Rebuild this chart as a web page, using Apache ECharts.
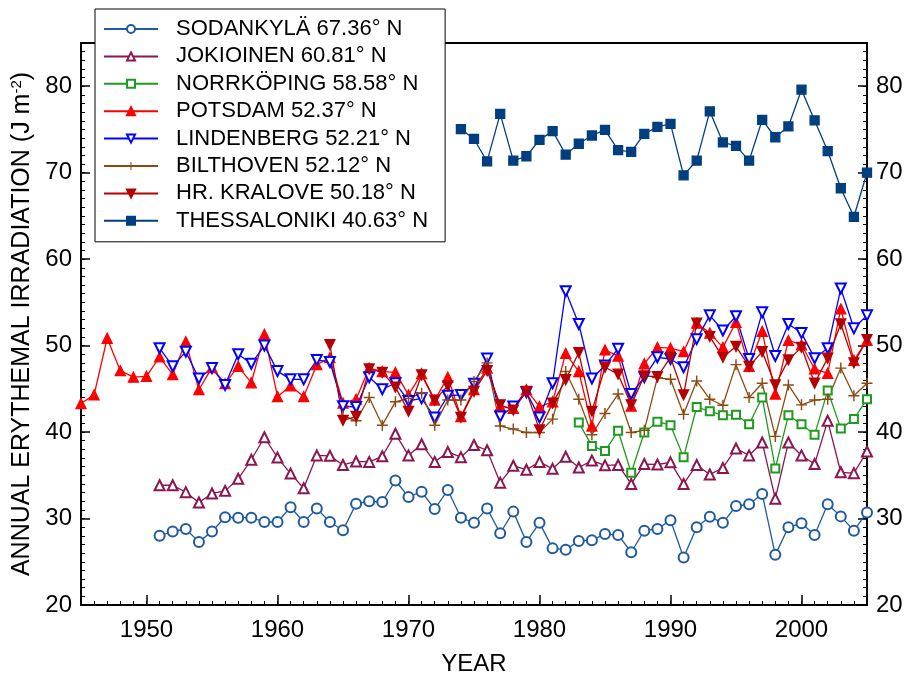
<!DOCTYPE html>
<html>
<head>
<meta charset="utf-8">
<script src="https://cdn.jsdelivr.net/npm/echarts@6/dist/echarts.min.js"></script>
<style>
html,body{margin:0;padding:0;background:#fff;}
#chart{width:904px;height:673px;}
</style>
</head>
<body>
<div id="chart"></div>
<script>
// ---- tick labels ----
const xTicks = [1950, 1960, 1970, 1980, 1990, 2000];
const yTicks = [20, 30, 40, 50, 60, 70, 80];

// ---- series names ----
const names = [
  'SODANKYLÄ 67.36° N',
  'JOKIOINEN 60.81° N',
  'NORRKÖPING 58.58° N',
  'POTSDAM 52.37° N',
  'LINDENBERG 52.21° N',
  'BILTHOVEN 52.12° N',
  'HR. KRALOVE 50.18° N',
  'THESSALONIKI 40.63° N'
];

// ---- first year of each series ----
const sodStart = 1951;
const jokStart = 1951;
const norStart = 1983;
const potStart = 1945;
const linStart = 1951;
const bilStart = 1965;
const hrkStart = 1964;
const theStart = 1974;

// ---- values (one per year, consecutive) ----
const sodankyla = [28.0, 28.5, 28.8, 27.3, 28.5, 30.15, 30.1, 30.1, 29.6, 29.6,
  31.3, 29.6, 31.15, 29.6, 28.65, 31.7, 32.0, 31.9, 34.4, 32.5,
  33.1, 31.1, 33.3, 30.1, 29.5, 31.15, 28.3, 30.8, 27.3, 29.5,
  26.55, 26.4, 27.4, 27.5, 28.2, 28.1, 26.1, 28.6, 28.8, 29.8,
  25.5, 29.0, 30.2, 29.5, 31.45, 31.65, 32.85, 25.8, 29.0, 29.45,
  28.1, 31.65, 30.25, 28.6, 30.7];

const jokioinen = [33.85, 33.85, 33.05, 31.85, 32.9, 33.2, 34.6, 36.8, 39.4, 37.05,
  35.2, 33.5, 37.3, 37.25, 36.2, 36.6, 36.55, 37.2, 39.8, 37.3,
  38.6, 36.55, 37.7, 37.1, 38.5, 37.9, 34.15, 36.1, 35.65, 36.55,
  35.75, 37.15, 35.9, 36.7, 36.15, 36.2, 34.0, 36.3, 36.25, 36.5,
  34.0, 36.2, 35.1, 35.85, 38.1, 37.3, 38.8, 32.3, 38.8, 37.3,
  36.3, 41.3, 35.35, 35.25, 37.75];

const norrkoping = [41.1, 38.4, 37.8, 40.15, 35.3, 39.95, 41.2, 40.8, 37.1, 42.9,
  42.4, 41.95, 42.0, 40.9, 44.0, 35.8, 41.95, 40.9, 39.7, 44.8,
  40.4, 41.5, 43.8];

const potsdam = [43.3, 44.3, 50.85, 47.1, 46.35, 46.45, 48.7, 46.65, 50.45, 44.9,
  47.45, 45.6, 47.6, 45.7, 51.3, 44.1, 45.35, 44.1, 47.8, 48.6,
  43.35, 43.8, 47.4, 47.0, 46.9, 44.3, 46.75, 43.7, 46.35, 41.8,
  44.9, 47.4, 43.0, 42.75, 44.9, 42.95, 43.5, 49.1, 47.0, 40.7,
  49.5, 48.8, 43.0, 47.9, 49.8, 49.7, 49.3, 52.6, 51.45, 49.8,
  52.7, 47.6, 51.65, 44.4, 50.6, 50.1, 47.3, 46.8, 54.25, 48.3,
  50.6];

const lindenberg = [49.7, 47.6, 49.3, 46.2, 47.4, 45.45, 49.0, 47.9, 50.0, 47.05,
  46.1, 46.1, 48.35, 48.1, 43.0, 42.9, 46.35, 44.95, 45.65, 43.6,
  43.9, 41.7, 44.2, 44.3, 45.6, 48.5, 41.8, 42.95, 44.6, 41.7,
  45.65, 56.3, 52.5, 46.2, 47.7, 49.65, 44.4, 46.35, 48.65, 48.45,
  47.5, 50.75, 53.5, 51.75, 53.4, 48.45, 53.85, 48.8, 52.5, 51.45,
  48.55, 49.7, 56.6, 52.0, 53.5];

const bilthoven = [41.9, 41.3, 44.0, 40.8, 43.5, 43.9, 44.5, 40.8, 43.7, 43.7,
  45.85, 48.0, 40.7, 40.35, 39.95, 39.95, 41.5, 47.0, 43.8, 39.7,
  42.15, 44.4, 39.95, 40.2, 46.3, 46.1, 42.05, 45.9, 43.8, 43.1,
  47.8, 44.0, 45.65, 39.5, 45.45, 43.15, 43.7, 43.8, 47.4, 44.2,
  45.65];

const hrKralove = [50.1,
  41.35, 41.8, 47.3, 46.9, 45.2, 42.4, 46.6, 43.7, 45.35, 41.7,
  44.7, 47.1, 43.15, 42.55, 44.7, 40.25, 43.35, 46.05, 49.2, 42.4,
  47.5, 46.7, 43.15, 46.5, 46.4, 48.65, 44.3, 52.6, 51.05, 48.65,
  49.9, 47.6, 49.3, 45.45, 48.35, 49.8, 45.65, 48.55, 52.5, 48.0,
  50.7];

const thessaloniki = [75.05, 73.9, 71.3, 76.8, 71.4, 71.9, 73.8, 74.8, 72.1, 73.35,
  74.3, 74.95, 72.6, 72.4, 74.5, 75.3, 75.65, 69.7, 71.4, 77.1,
  73.5, 73.1, 71.4, 76.1, 74.1, 75.35, 79.6, 76.05, 72.5, 68.2,
  64.9, 70.0];

// ---- build ----
const FONT = '"Liberation Sans", Arial, Helvetica, sans-serif';
function pairs(start, vals) { return vals.map((v, i) => [start + i, v]); }
const plusPath = 'path://M4.35,0H5.65V4.35H10V5.65H5.65V10H4.35V5.65H0V4.35H4.35Z';

function mk(name, start, vals, color, symbol, size, rotate) {
  return {
    name: name, type: 'line', xAxisIndex: 0, yAxisIndex: 0,
    data: pairs(start, vals),
    symbol: symbol, symbolSize: size, symbolRotate: rotate || 0,
    showAllSymbol: true,
    lineStyle: { color: color, width: 1.3 },
    itemStyle: { color: color, borderColor: color, borderWidth: 1.3 },
    emphasis: { disabled: true },
    animation: false
  };
}

const series = [
  mk(names[0], sodStart, sodankyla, '#1E5AA0', 'emptyCircle', 10),
  mk(names[1], jokStart, jokioinen, '#8B1650', 'emptyTriangle', 10),
  mk(names[2], norStart, norrkoping, '#1E9B1E', 'emptyRect', 8),
  mk(names[3], potStart, potsdam, '#FF0000', 'triangle', 10),
  mk(names[4], linStart, lindenberg, '#0000FF', 'emptyTriangle', 10, 180),
  mk(names[5], bilStart, bilthoven, '#8C4A12', plusPath, 11),
  mk(names[6], hrkStart, hrKralove, '#B40000', 'triangle', 10, 180),
  mk(names[7], theStart, thessaloniki, '#003F7F', 'rect', 9)
];
series[5].itemStyle = { color: '#8C4A12', borderWidth: 0 };

const minorTick = { show: true, inside: true, length: 4, lineStyle: { color: '#000', width: 1 } };
const lab = { fontSize: 24, color: '#000', fontFamily: FONT, formatter: function (v) { return String(v); } };

const chart = echarts.init(document.getElementById('chart'), null, { renderer: 'canvas' });
chart.setOption({
  animation: false,
  backgroundColor: '#fff',
  textStyle: { fontFamily: FONT },
  grid: { left: 81, right: 37, top: 43, bottom: 68, show: true, borderColor: '#000', borderWidth: 2,
    backgroundColor: 'transparent', containLabel: false, outerBoundsMode: 'none' },
  legend: {
    orient: 'vertical', left: 95, top: 9,
    itemWidth: 54, itemHeight: 10, itemGap: 5.4,
    padding: [9, 17, 10, 8],
    backgroundColor: '#fff', borderColor: '#000', borderWidth: 1, borderRadius: 0,
    textStyle: { fontSize: 22, color: '#000', fontFamily: FONT, lineHeight: 20, padding: [0, 0, 0, 13] },
    data: names,
    selectedMode: false
  },
  xAxis: [
    { type: 'value', min: 1945, max: 2005, interval: 1, position: 'bottom',
      axisLine: { show: true, lineStyle: { color: '#000', width: 2 } },
      axisTick: minorTick, axisLabel: { show: false }, splitLine: { show: false } },
    { type: 'value', min: 1945, max: 2005, position: 'bottom',
      axisLine: { show: false },
      axisTick: { show: true, inside: true, length: 10, customValues: xTicks, lineStyle: { color: '#000', width: 1.5 } },
      axisLabel: Object.assign({ customValues: xTicks, margin: 13 }, lab),
      splitLine: { show: false },
      name: 'YEAR', nameLocation: 'middle', nameGap: 47,
      nameTextStyle: { fontSize: 24, color: '#000', fontFamily: FONT } }
  ],
  yAxis: [
    { type: 'value', min: 20, max: 85, interval: 1, position: 'left',
      axisLine: { show: true, lineStyle: { color: '#000', width: 2 } },
      axisTick: minorTick, axisLabel: { show: false }, splitLine: { show: false } },
    { type: 'value', min: 20, max: 85, position: 'left',
      axisLine: { show: false },
      axisTick: { show: true, inside: true, length: 9, customValues: yTicks, lineStyle: { color: '#000', width: 1.5 } },
      axisLabel: Object.assign({ customValues: yTicks, margin: 9 }, lab),
      splitLine: { show: false },
      name: 'ANNUAL ERYTHEMAL IRRADIATION (J m{sup|-2})', nameLocation: 'middle', nameGap: 39,
      nameTextStyle: { fontSize: 25, color: '#000', fontFamily: FONT,
        rich: { sup: { fontSize: 15, fontFamily: FONT, color: '#000', verticalAlign: 'top', padding: [0, 0, 10, 0] } } } },
    { type: 'value', min: 20, max: 85, interval: 1, position: 'right',
      axisLine: { show: true, lineStyle: { color: '#000', width: 2 } },
      axisTick: minorTick, axisLabel: { show: false }, splitLine: { show: false } },
    { type: 'value', min: 20, max: 85, position: 'right',
      axisLine: { show: false },
      axisTick: { show: true, inside: true, length: 9, customValues: yTicks, lineStyle: { color: '#000', width: 1.5 } },
      axisLabel: Object.assign({ customValues: yTicks, margin: 9 }, lab),
      splitLine: { show: false } }
  ],
  series: series
});
</script>
</body>
</html>
